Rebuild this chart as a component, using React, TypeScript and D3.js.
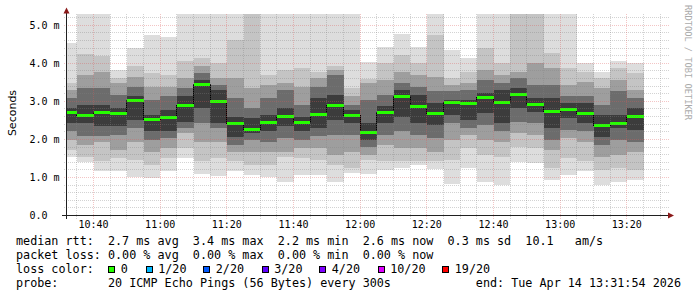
import React from 'react';
import * as d3 from 'd3';

// ---- data (ms) ----
const slotStarts = [
  '10:30','10:35','10:40','10:45','10:50','10:55','11:00','11:05','11:10','11:15',
  '11:20','11:25','11:30','11:35','11:40','11:45','11:50','11:55','12:00','12:05',
  '12:10','12:15','12:20','12:25','12:30','12:35','12:40','12:45','12:50','12:55',
  '13:00','13:05','13:10','13:15','13:20',
];
const medianRtt = [2.72,2.63,2.72,2.67,3.01,2.53,2.57,2.90,3.44,3.00,2.41,2.26,2.45,2.60,2.44,2.66,2.88,2.63,2.19,2.70,3.12,2.87,2.68,2.97,2.94,3.10,2.98,3.17,2.91,2.73,2.79,2.68,2.36,2.43,2.60];
const pingMax  = [4.53,5.6,5.6,3.83,4.40,4.75,4.68,5.6,5.6,5.6,5.6,5.6,5.6,5.6,5.6,5.6,5.6,5.6,4.03,4.44,4.77,4.44,5.6,4.35,4.13,5.6,5.6,5.6,5.6,5.6,5.6,4.00,3.78,4.05,4.00];
const pingHi2  = [3.48,4.24,4.20,3.61,3.92,3.74,3.70,4.05,4.13,4.00,4.62,5.6,3.70,3.83,3.87,3.78,3.92,3.35,3.60,4.00,4.22,4.00,4.75,3.61,3.78,4.40,4.00,5.6,5.6,4.27,3.87,3.78,3.61,3.87,3.74];
const pingHi3  = [3.30,3.70,3.78,3.48,3.65,3.39,3.39,3.61,3.92,3.61,3.61,3.35,3.43,3.48,3.39,3.61,3.83,3.13,3.47,3.56,3.78,3.70,3.65,3.43,3.48,3.83,3.70,3.78,4.00,3.87,3.43,3.52,3.35,3.56,3.30];
const pingHi4  = [3.08,3.35,3.35,3.17,3.39,3.04,3.13,3.35,3.74,3.43,3.08,2.82,3.08,3.30,2.91,3.39,3.70,2.91,3.03,3.17,3.48,3.39,3.26,3.26,3.30,3.56,3.48,3.61,3.43,3.43,3.13,3.13,2.91,3.26,3.08];
const pingHi5  = [2.82,2.91,2.91,2.82,3.13,2.63,2.78,3.13,3.56,3.30,2.60,2.56,2.64,2.82,2.60,3.08,3.17,2.78,2.42,2.87,3.30,3.17,2.95,3.04,3.04,3.21,3.30,3.35,3.08,3.08,2.95,2.95,2.64,2.64,2.82];
const pingLo5  = [2.42,2.43,2.34,2.34,2.51,2.21,2.21,2.47,2.82,2.43,2.07,2.17,2.21,2.34,2.21,2.29,2.51,2.43,1.98,2.43,2.60,2.43,2.38,2.64,2.51,2.69,2.43,2.82,2.73,2.29,2.56,2.43,2.07,2.29,2.25];
const pingLo4  = [2.21,2.08,2.08,2.12,2.29,1.99,2.03,2.29,2.43,2.29,1.86,1.99,1.94,2.03,1.99,2.08,2.12,2.12,1.80,2.12,2.21,2.12,2.03,2.43,2.29,2.38,2.21,2.47,2.43,1.99,2.25,2.21,1.86,1.99,1.94];
const pingLo3  = [1.99,1.86,1.94,1.72,1.94,1.68,1.77,2.16,1.94,1.94,1.68,1.68,1.68,1.68,1.77,1.77,1.59,1.68,1.58,1.86,1.77,1.77,1.68,1.99,2.12,1.99,1.94,2.16,2.12,1.72,2.03,1.94,1.55,1.59,1.68];
const pingLo2  = [1.72,1.55,1.42,1.51,1.46,1.33,1.51,1.77,1.42,1.51,1.42,1.33,1.33,1.55,1.51,1.46,1.33,1.24,1.45,1.42,1.42,1.42,1.42,1.46,1.77,1.59,1.55,1.81,1.77,1.24,1.51,1.42,1.20,1.24,1.20];
const pingMin  = [1.55,1.40,1.17,1.16,1.02,0.98,1.16,1.51,1.08,1.05,1.17,1.07,1.02,0.87,1.07,1.07,0.89,1.11,1.10,1.20,1.24,1.33,1.22,0.83,1.24,0.88,0.79,1.40,1.37,0.94,1.07,1.17,0.79,0.87,0.94];

const yTicks = [0, 1, 2, 3, 4, 5];
const yTickLabels = ['0.0', '1.0 m', '2.0 m', '3.0 m', '4.0 m', '5.0 m'];
const xTickLabels = ['10:40', '11:00', '11:20', '11:40', '12:00', '12:20', '12:40', '13:00', '13:20'];

const lossLabels = ['0', '1/20', '2/20', '3/20', '4/20', '10/20', '19/20'];
const lossColors = ['#26ff00', '#00b8ff', '#0059ff', '#5e00ff', '#7e00ff', '#dd00ff', '#ff0000'];

const legendRows = [
  'median rtt:  2.7 ms avg  3.4 ms max  2.2 ms min  2.6 ms now  0.3 ms sd  10.1   am/s',
  'packet loss: 0.00 % avg  0.00 % max  0.00 % min  0.00 % now',
  'loss color:',
  'probe:       20 ICMP Echo Pings (56 Bytes) every 300s            end: Tue Apr 14 13:31:54 2026',
];

const bandColors = ['#dddddd', '#c4c4c4', '#9e9e9e', '#6c6c6c', '#3c3c3c'];

// ---- layout ----
const W = 697, H = 297;
const X0 = 66.5, X1 = 666.5, Y0 = 215.5, YTOP = 14;
const MONO = '"DejaVu Sans Mono", monospace';

const t = (s: string) => {
  const [h, m] = s.split(':').map(Number);
  return new Date(2026, 3, 14, h, m, 0);
};
const START = new Date(2026, 3, 14, 10, 31, 54);
const END = new Date(2026, 3, 14, 13, 31, 54);

export default function App() {
  const x = d3.scaleTime().domain([START, END]).range([X0, X1]);
  const y = d3.scaleLinear().domain([0, 5]).range([Y0, Y0 - 5 * 38.05]);

  const bars = slotStarts.map((s, i) => {
    const st = t(s);
    const en = d3.timeMinute.offset(st, 5);
    const x0 = x(st < START ? START : st);
    const x1 = x(en);
    const lows = [pingMin[i], pingLo2[i], pingLo3[i], pingLo4[i], pingLo5[i]];
    const highs = [pingMax[i], pingHi2[i], pingHi3[i], pingHi4[i], pingHi5[i]];
    return { x0, x1, lows, highs, med: medianRtt[i], st, en };
  });

  const stepPts: [number, number][] = bars.map((b) => [b.x0, y(b.med)]);
  stepPts.push([bars[bars.length - 1].x1, y(bars[bars.length - 1].med)]);
  const stepPath = d3.line().curve(d3.curveStepAfter)(stepPts) || '';

  const minorY = d3.range(1, 27).map((k) => k * 0.2).filter((v) => Math.abs(v - Math.round(v)) > 1e-6);
  const majorY = [1, 2, 3, 4, 5];
  const minorX = d3.timeMinute.every(5)!.range(START, END).filter((d) => d.getMinutes() % 20 !== 0);
  const majorX = xTickLabels.map(t);

  const cr = (v: number) => Math.round(v - 0.5) + 0.5;

  const sqX = [108.3, 145.7, 203.3, 261.7, 319.3, 377.7, 442.3];

  return (
    <svg width={W} height={H} style={{ position: 'absolute', left: 0, top: 0 }} xmlns="http://www.w3.org/2000/svg">
      <rect x={0} y={0} width={W} height={H} fill="#ffffff" />
      <defs>
        <clipPath id="plot">
          <rect x={X0} y={YTOP} width={X1 - X0} height={Y0 - YTOP} />
        </clipPath>
      </defs>

      <g clipPath="url(#plot)" shapeRendering="crispEdges">
        {bars.map((b, i) => (
          <g key={i}>
            {b.lows.map((lo, k) => (
              <rect key={k} x={b.x0} width={b.x1 - b.x0} y={y(b.highs[k])} height={y(lo) - y(b.highs[k])} fill={bandColors[k]} />
            ))}
          </g>
        ))}
        <path d={stepPath} fill="none" stroke="#000" strokeWidth={1} />
        {bars.map((b, i) => (
          <rect key={'m' + i} x={b.x0} width={b.x1 - b.x0} y={y(b.med) - 1.5} height={3} fill={lossColors[0]} />
        ))}
      </g>

      {/* grid */}
      <g shapeRendering="crispEdges" strokeDasharray="1,1">
        {minorY.map((v) => (
          <line key={'hy' + v} x1={X0 - 3} x2={X1 + 2} y1={cr(y(v))} y2={cr(y(v))} stroke="rgba(128,128,128,0.35)" />
        ))}
        {minorX.map((d) => (
          <line key={'vx' + +d} x1={cr(x(d))} x2={cr(x(d))} y1={YTOP} y2={Y0 + 3} stroke="rgba(128,128,128,0.35)" />
        ))}
        {majorY.map((v) => (
          <line key={'My' + v} x1={X0 - 3} x2={X1 + 2} y1={cr(y(v))} y2={cr(y(v))} stroke="rgba(220,90,90,0.35)" />
        ))}
        {majorX.map((d) => (
          <line key={'Mx' + +d} x1={cr(x(d))} x2={cr(x(d))} y1={YTOP} y2={Y0 + 3} stroke="rgba(220,90,90,0.35)" />
        ))}
      </g>

      {/* axes */}
      <g shapeRendering="crispEdges">
        <line x1={62} x2={669} y1={Y0} y2={Y0} stroke="#202020" />
        <line x1={X0} x2={X0} y1={Y0 + 3} y2={11} stroke="#202020" />
      </g>
      <path d={`M${X0 - 3},13.5 L${X0 + 3},13.5 L${X0},7.5 Z`} fill="#8b1a1a" />
      <path d={`M668,${Y0 - 3} L668,${Y0 + 3} L674,${Y0} Z`} fill="#8b1a1a" />

      <g fontFamily={MONO} fontSize={10} fill="#000">
        {yTicks.map((v, i) => (
          <text key={v} x={29.5} y={y(v) + 3.6}>{yTickLabels[i]}</text>
        ))}
        {xTickLabels.map((s) => (
          <text key={s} x={x(t(s))} y={228} textAnchor="middle">{s}</text>
        ))}
      </g>

      <text transform={`translate(15.5,113) rotate(-90)`} textAnchor="middle" fontFamily='"DejaVu Sans", sans-serif' fontSize={11} fill="#000">Seconds</text>
      <text transform={`translate(684.5,5) rotate(90)`} textAnchor="start" fontFamily={MONO} fontSize={8.7} fill="#aaaaaa">RRDTOOL / TOBI OETIKER</text>

      <g fontFamily={MONO} fontSize={11.75} fill="#000" style={{ whiteSpace: 'pre' }}>
        {legendRows.map((r, i) => (
          <text key={i} x={16} y={244.8 + i * 14.1} xmlSpace="preserve">{r}</text>
        ))}
        {lossLabels.map((l, i) => (
          <g key={l}>
            <rect x={sqX[i] + 0.5} y={266.5} width={6} height={6} fill={lossColors[i]} stroke="#000" strokeWidth={1} shapeRendering="crispEdges" />
            <text x={sqX[i] + 12.5} y={244.8 + 2 * 14.1}>{l}</text>
          </g>
        ))}
      </g>
    </svg>
  );
}
